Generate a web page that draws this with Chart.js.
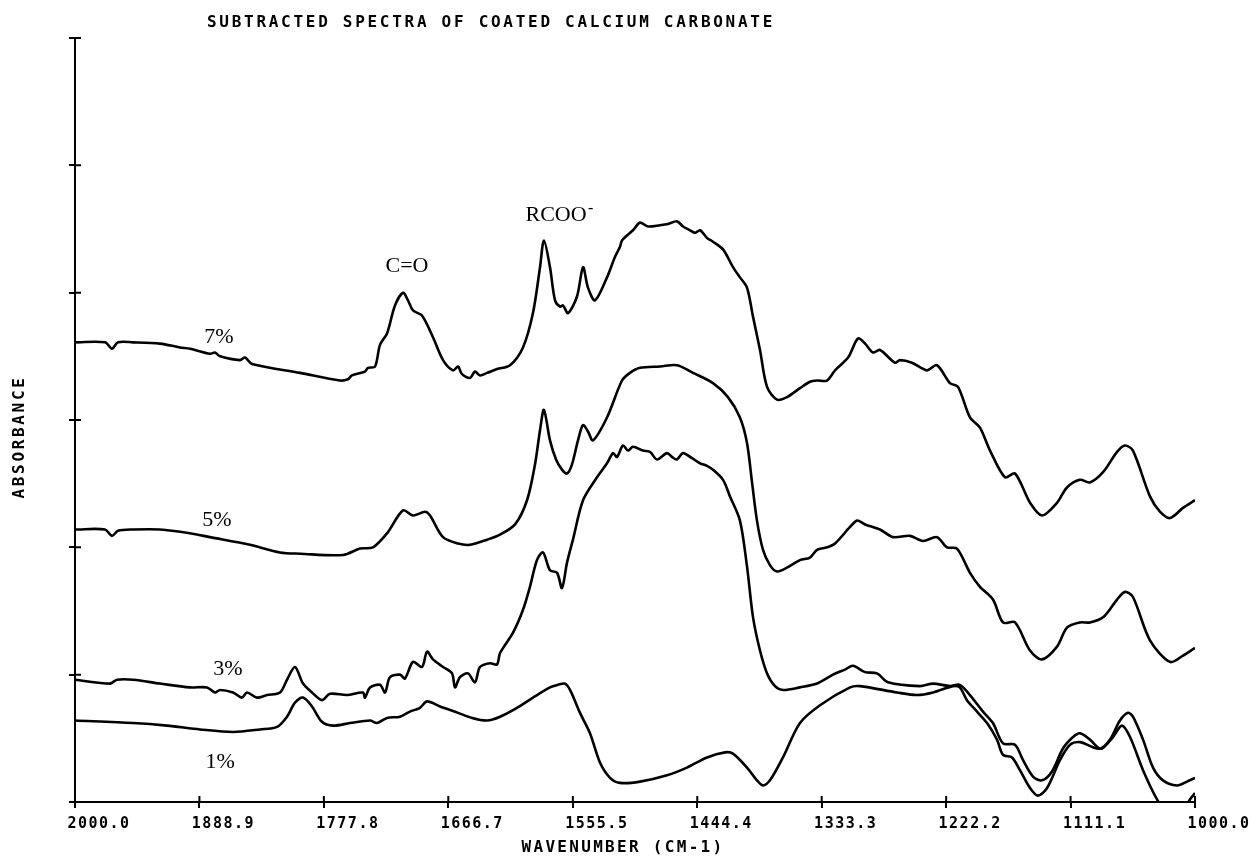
<!DOCTYPE html>
<html>
<head>
<meta charset="utf-8">
<title>Subtracted spectra of coated calcium carbonate</title>
<script src="https://cdn.jsdelivr.net/npm/chart.js@4.4.1/dist/chart.umd.min.js"></script>
<style>
  html,body{margin:0;padding:0;background:#fff;}
</style>
</head>
<body>
<canvas id="spectra" width="1256" height="858"></canvas>
<script>
// x axis: wavenumber (cm-1), y axis: absorbance (arbitrary offsets, no labels)
const xTicks=[1000,1111.1,1222.2,1333.3,1444.4,1555.5,1666.7,1777.8,1888.9,2000];
const xTickLabels=['1000.0','1111.1','1222.2','1333.3','1444.4','1555.5','1666.7','1777.8','1888.9','2000.0'];
const yTicks=[0,1,2,3,4,5,6];

// [wavenumber, absorbance]
const coat7=[[2000,3.61],[1973.2,3.61],[1967.0,3.56],[1961.6,3.61],[1948.2,3.61],[1924.1,3.60],[1906.3,3.57],[1897.3,3.56],
 [1879.5,3.52],[1875.0,3.53],[1870.5,3.50],[1852.7,3.47],[1848.2,3.49],[1842.0,3.44],[1799.1,3.37],[1763.4,3.31],
 [1756.3,3.32],[1752.7,3.35],[1741.1,3.38],[1738.4,3.41],[1732.1,3.42],[1727.7,3.59],[1721.4,3.68],[1714.3,3.90],
 [1707.1,4.00],[1702.7,3.94],[1698.2,3.86],[1690.2,3.82],[1680.4,3.65],[1671.4,3.47],[1662.5,3.39],[1658.0,3.42],
 [1654.5,3.36],[1647.3,3.33],[1642.9,3.38],[1638.4,3.35],[1632.1,3.37],[1623.2,3.40],[1611.6,3.43],[1600.0,3.57],
 [1591.1,3.84],[1584.8,4.20],[1581.3,4.41],[1575.9,4.20],[1571.4,3.94],[1566.9,3.89],[1564.3,3.90],[1559.8,3.84],
 [1551.8,3.97],[1546.4,4.20],[1542.0,4.04],[1535.7,3.94],[1525.0,4.12],[1517.9,4.28],[1513.4,4.36],[1511.6,4.41],
 [1501.8,4.49],[1495.5,4.55],[1488.4,4.52],[1477.7,4.53],[1470.5,4.54],[1462.5,4.56],[1457.1,4.52],[1450.9,4.49],
 [1446.4,4.47],[1441.9,4.49],[1435.7,4.43],[1430.4,4.40],[1421.4,4.34],[1412.5,4.20],[1406.3,4.12],[1400.0,4.04],
 [1394.6,3.81],[1388.4,3.55],[1382.1,3.26],[1373.2,3.16],[1364.3,3.18],[1352.7,3.25],[1343.8,3.30],[1337.5,3.31],
 [1328.6,3.31],[1321.4,3.39],[1309.8,3.49],[1300.9,3.64],[1294.6,3.60],[1287.5,3.53],[1281.3,3.55],[1267.9,3.45],
 [1263.4,3.47],[1252.7,3.45],[1239.3,3.39],[1230.4,3.43],[1218.8,3.29],[1211.6,3.26],[1200.9,3.02],[1192.0,2.94],
 [1183.0,2.76],[1169.6,2.55],[1160.7,2.58],[1147.3,2.35],[1136.6,2.25],[1123.2,2.35],[1114.3,2.47],[1102.7,2.53],
 [1093.8,2.51],[1082.1,2.59],[1069.6,2.75],[1062.5,2.80],[1055.4,2.76],[1040.2,2.40],[1031.3,2.28],[1022.3,2.23],
 [1010.7,2.31],[1000,2.37]];

const coat5=[[2000,2.14],[1973.2,2.14],[1967.0,2.09],[1961.6,2.13],[1948.2,2.14],[1924.1,2.14],[1897.3,2.11],[1879.5,2.08],
 [1843.8,2.02],[1817.0,1.96],[1799.1,1.95],[1760.7,1.94],[1745.5,1.99],[1733.9,2.00],[1721.4,2.11],[1707.1,2.29],
 [1698.2,2.25],[1687.5,2.28],[1683.0,2.25],[1671.4,2.08],[1658.0,2.03],[1647.3,2.02],[1632.1,2.06],[1620.5,2.10],
 [1607.1,2.18],[1596.4,2.37],[1589.3,2.65],[1584.8,2.92],[1581.3,3.08],[1575.9,2.84],[1570.5,2.69],[1565.2,2.61],
 [1560.7,2.58],[1556.3,2.65],[1550.9,2.84],[1546.4,2.96],[1542.0,2.91],[1537.5,2.84],[1525.0,3.02],[1511.6,3.31],
 [1504.5,3.37],[1495.5,3.41],[1477.7,3.42],[1462.5,3.43],[1448.2,3.37],[1430.4,3.29],[1417.0,3.18],[1406.3,3.02],
 [1400.0,2.82],[1395.5,2.51],[1391.1,2.21],[1385.7,1.98],[1379.5,1.86],[1373.2,1.81],[1364.3,1.84],[1352.7,1.90],
 [1343.8,1.92],[1337.5,1.98],[1328.6,2.00],[1321.4,2.03],[1308.0,2.16],[1301.8,2.21],[1294.6,2.18],[1281.3,2.14],
 [1269.6,2.08],[1254.5,2.09],[1242.9,2.05],[1230.4,2.08],[1221.4,2.00],[1212.5,1.99],[1200.9,1.80],[1192.0,1.69],
 [1180.4,1.59],[1171.4,1.41],[1160.7,1.41],[1147.3,1.19],[1136.6,1.12],[1123.2,1.22],[1114.3,1.37],[1102.7,1.41],
 [1093.8,1.41],[1082.1,1.45],[1069.6,1.59],[1062.5,1.65],[1055.4,1.61],[1040.2,1.27],[1022.3,1.10],[1010.7,1.15],
 [1000,1.21]];

const coat3=[[2000,0.96],[1968.8,0.93],[1962.5,0.96],[1948.2,0.96],[1924.1,0.93],[1897.3,0.90],[1882.1,0.90],[1875.0,0.86],
 [1870.5,0.88],[1858.9,0.86],[1850.9,0.82],[1846.4,0.86],[1837.5,0.82],[1828.6,0.84],[1817.0,0.86],[1810.7,0.96],
 [1803.6,1.06],[1796.4,0.93],[1788.4,0.86],[1779.5,0.80],[1772.3,0.85],[1757.1,0.84],[1742.9,0.86],[1741.1,0.82],
 [1736.6,0.90],[1727.7,0.92],[1723.2,0.86],[1718.8,0.98],[1709.8,1.00],[1705.4,0.97],[1698.2,1.10],[1690.2,1.06],
 [1685.7,1.18],[1680.4,1.12],[1671.4,1.06],[1663.4,1.01],[1660.7,0.90],[1656.3,0.98],[1649.1,1.01],[1642.9,0.94],
 [1638.4,1.06],[1629.5,1.09],[1623.2,1.08],[1620.5,1.17],[1608.9,1.33],[1600.0,1.51],[1593.8,1.69],[1587.5,1.90],
 [1582.1,1.96],[1575.9,1.82],[1569.6,1.80],[1565.2,1.68],[1560.7,1.88],[1555.4,2.06],[1546.4,2.37],[1533.9,2.55],
 [1525.0,2.66],[1519.6,2.74],[1516.1,2.71],[1510.7,2.80],[1506.3,2.76],[1501.8,2.79],[1492.9,2.76],[1486.6,2.75],
 [1480.4,2.69],[1471.4,2.74],[1467.0,2.71],[1462.5,2.69],[1457.1,2.74],[1449.1,2.70],[1441.9,2.66],[1435.7,2.64],
 [1430.4,2.61],[1421.4,2.53],[1415.2,2.40],[1406.3,2.21],[1400.0,1.85],[1394.6,1.45],[1388.4,1.19],[1382.1,1.01],
 [1375.0,0.91],[1367.9,0.88],[1352.7,0.90],[1337.5,0.93],[1323.2,1.00],[1312.5,1.04],[1305.4,1.07],[1294.6,1.02],
 [1283.9,1.01],[1274.1,0.94],[1245.5,0.91],[1233.9,0.93],[1218.8,0.91],[1210.0,0.92],[1201.0,0.84],[1189.3,0.71],
 [1180.4,0.62],[1171.4,0.46],[1160.7,0.45],[1153.6,0.33],[1144.6,0.20],[1136.6,0.17],[1127.7,0.24],[1117.9,0.42],
 [1108.9,0.51],[1102.7,0.54],[1093.8,0.49],[1084.8,0.42],[1075.9,0.49],[1067.0,0.64],[1059.8,0.70],[1055.4,0.67],
 [1046.4,0.49],[1037.5,0.27],[1028.6,0.17],[1016.1,0.13],[1007.1,0.16],[1000,0.19]];

const coat1=[[2000,0.64],[1948.2,0.62],[1917.9,0.60],[1888.4,0.57],[1858.9,0.55],[1834.8,0.57],[1819.6,0.59],[1810.7,0.67],
 [1803.6,0.78],[1796.4,0.82],[1788.4,0.75],[1779.5,0.63],[1769.6,0.60],[1754.5,0.62],[1736.6,0.64],[1730.4,0.62],
 [1721.4,0.66],[1709.8,0.67],[1700.9,0.71],[1692.0,0.74],[1685.7,0.79],[1674.1,0.75],[1658.0,0.70],[1645.5,0.66],
 [1632.1,0.64],[1620.5,0.67],[1605.4,0.74],[1591.1,0.82],[1575.9,0.90],[1568.8,0.92],[1562.5,0.93],[1558.0,0.88],
 [1549.1,0.70],[1540.2,0.54],[1531.3,0.31],[1522.3,0.19],[1513.4,0.15],[1495.5,0.16],[1471.4,0.21],[1453.6,0.27],
 [1435.7,0.35],[1419.6,0.39],[1412.5,0.38],[1400.0,0.27],[1391.1,0.17],[1385.7,0.13],[1379.5,0.17],[1367.9,0.35],
 [1352.7,0.62],[1334.8,0.76],[1308.0,0.90],[1299.1,0.91],[1266.1,0.86],[1248.2,0.84],[1233.9,0.86],[1216.1,0.91],
 [1210.0,0.90],[1203.6,0.80],[1194.6,0.71],[1185.7,0.62],[1176.8,0.49],[1171.4,0.37],[1163.4,0.35],[1156.3,0.25],
 [1147.3,0.11],[1140.2,0.05],[1132.1,0.11],[1120.5,0.33],[1111.6,0.45],[1102.7,0.47],[1091.1,0.43],[1083.0,0.42],
 [1073.2,0.51],[1065.2,0.60],[1058.0,0.51],[1046.4,0.25],[1033.9,0.02],[1022.3,-0.13],[1010.7,-0.08],[1004.5,0.02],
 [1000,0.07]];

const seriesNames=['7%','5%','3%','1%'];

// where the hand-lettered notes sit, in data units
const notes=[
  {text:'7%',x:1871.4,y:3.65},
  {text:'5%',x:1873.2,y:2.21},
  {text:'3%',x:1863.4,y:1.04},
  {text:'1%',x:1870.5,y:0.31},
  {text:'C=O',x:1703.6,y:4.21},
  {text:'RCOO',x:1570.5,y:4.61,sup:'-'}
];

const plotterFont='bold 16px "DejaVu Sans Mono"';

// draws text stretched out to a target width (plotter lettering)
function spacedText(ctx,text,x,y,width,align){
  ctx.font=plotterFont;
  ctx.letterSpacing='0px';
  const w=ctx.measureText(text).width;
  const ls=(width-w)/(text.length);
  ctx.letterSpacing=ls+'px';
  ctx.textAlign=align;
  ctx.textBaseline='middle';
  ctx.fillText(text,x,y);
  ctx.letterSpacing='0px';
}

const paperText={
  id:'paperText',
  beforeDraw(chart){
    chart.ctx.letterSpacing='1.5px';
  },
  afterDraw(chart){
    const ctx=chart.ctx;
    const xs=chart.scales.x, ys=chart.scales.y;
    const area=chart.chartArea;
    ctx.save();
    ctx.letterSpacing='0px';
    ctx.strokeStyle='#000';
    ctx.lineWidth=2;
    // inner half of the tick marks (ticks cross the axes)
    ctx.beginPath();
    xTicks.forEach(v=>{
      const px=xs.getPixelForValue(v);
      ctx.moveTo(px,area.bottom);ctx.lineTo(px,area.bottom-6);
    });
    yTicks.forEach(v=>{
      const py=ys.getPixelForValue(v);
      ctx.moveTo(area.left,py);ctx.lineTo(area.left+6,py);
    });
    ctx.stroke();

    ctx.fillStyle='#000';
    spacedText(ctx,'SUBTRACTED SPECTRA OF COATED CALCIUM CARBONATE',207,23,568,'left');
    spacedText(ctx,'WAVENUMBER (CM-1)',623,848,203,'center');
    ctx.save();
    ctx.translate(20,437);
    ctx.rotate(-Math.PI/2);
    spacedText(ctx,'ABSORBANCE',0,0,123,'center');
    ctx.restore();

    ctx.textAlign='center';
    ctx.textBaseline='middle';
    notes.forEach(n=>{
      const px=xs.getPixelForValue(n.x), py=ys.getPixelForValue(n.y);
      ctx.font='22px "Liberation Serif"';
      ctx.fillText(n.text,px,py);
      if(n.sup){
        const w=ctx.measureText(n.text).width;
        ctx.font='16px "Liberation Serif"';
        ctx.fillText(n.sup,px+w/2+4,py-6);
      }
    });
    ctx.restore();
  }
};

const toPoints=arr=>arr.map(([x,y])=>({x,y}));

const ctx=document.getElementById('spectra');
new Chart(ctx,{
  type:'line',
  data:{
    datasets:[coat7,coat5,coat3,coat1].map((s,i)=>({
      label:seriesNames[i],
      data:toPoints(s),
      borderColor:'#000',
      borderWidth:2.6,
      pointRadius:0,
      fill:false,
      tension:0.3
    }))
  },
  options:{
    responsive:false,
    animation:false,
    devicePixelRatio:1,
    layout:{padding:{top:38,right:61,left:0,bottom:0}},
    plugins:{
      legend:{display:false},
      title:{display:false},
      tooltip:{enabled:false}
    },
    scales:{
      x:{
        type:'linear',
        reverse:true,
        min:1000,
        max:2000,
        afterBuildTicks:s=>{s.ticks=xTicks.map(v=>({value:v}));},
        afterFit:s=>{s.height=56;s.paddingLeft=0;s.paddingRight=0;},
        ticks:{
          autoSkip:false,
          maxRotation:0,
          labelOffset:24,
          padding:7,
          color:'#000',
          font:{family:'DejaVu Sans Mono',weight:'bold',size:15},
          callback:v=>xTickLabels[xTicks.indexOf(v)]
        },
        grid:{drawOnChartArea:false,color:'#000',lineWidth:2,tickLength:6},
        border:{color:'#000',width:2}
      },
      y:{
        type:'linear',
        min:0,
        max:6,
        afterBuildTicks:s=>{s.ticks=yTicks.map(v=>({value:v}));},
        afterFit:s=>{s.width=75;},
        ticks:{display:false},
        grid:{drawOnChartArea:false,color:'#000',lineWidth:2,tickLength:6},
        border:{color:'#000',width:2}
      }
    }
  },
  plugins:[paperText]
});
</script>
</body>
</html>
